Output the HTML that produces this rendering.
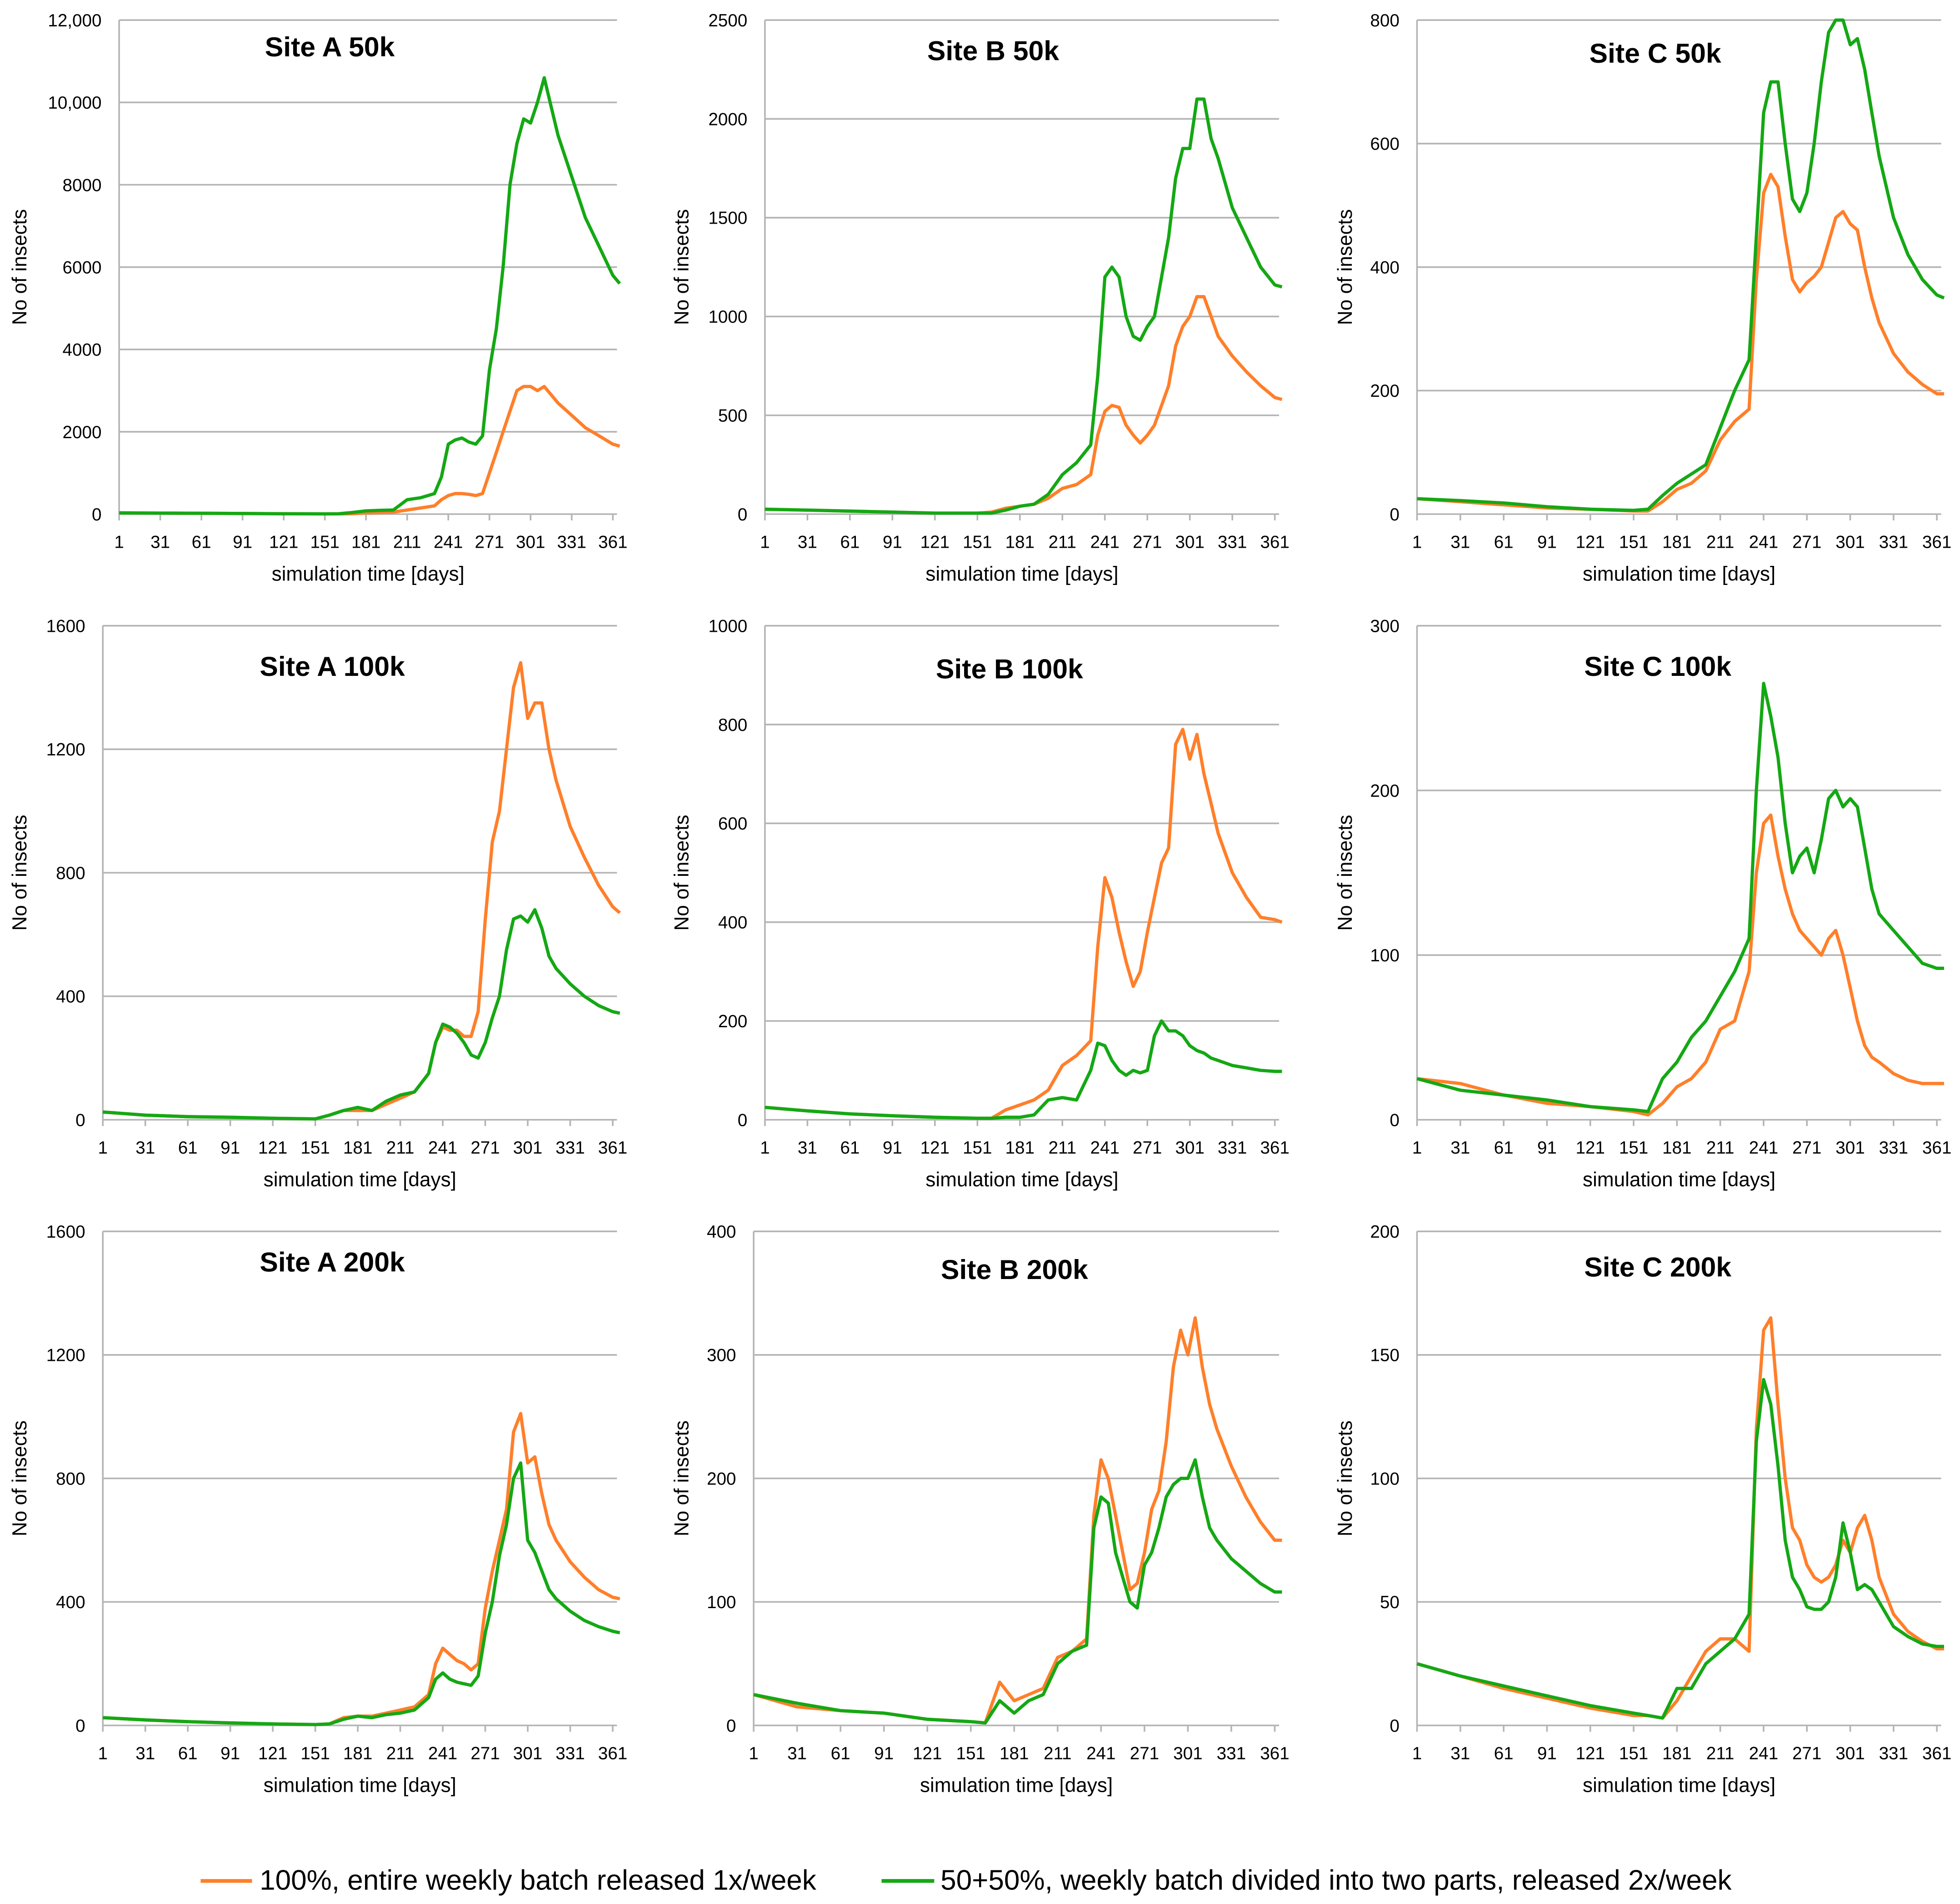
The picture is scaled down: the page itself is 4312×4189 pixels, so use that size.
<!DOCTYPE html>
<html><head><meta charset="utf-8"><style>
html,body{margin:0;padding:0;background:#fff}
svg{display:block}
text{font-family:"Liberation Sans Narrow","Liberation Sans",sans-serif;fill:#000}
</style></head><body>
<svg id="chart" width="4312" height="4189" viewBox="0 0 1563 1518.4" xmlns="http://www.w3.org/2000/svg">
<g>
<line x1="160" y1="1500" x2="201" y2="1500" stroke="#ff7f2a" stroke-width="3"/>
<text x="207" y="1507" font-size="22.5">100%, entire  weekly batch  released 1x/week</text>
<line x1="703" y1="1500" x2="745" y2="1500" stroke="#14a814" stroke-width="3"/>
<text x="750" y="1507" font-size="22.5">50+50%, weekly batch divided into two parts, released 2x/week</text>
</g>
</svg>
<script>
const days=[1,31,61,91,121,151,161,171,181,191,201,211,221,231,236,241,246,251,256,261,266,271,276,281,286,291,296,301,306,311,316,321,331,341,351,361,366];
const xTickLabels=[1,31,61,91,121,151,181,211,241,271,301,331,361];
const titles=["Site A 50k","Site B 50k","Site C 50k","Site A 100k","Site B 100k","Site C 100k","Site A 200k","Site B 200k","Site C 200k"];
const yTicksA50=["0","2000","4000","6000","8000","10,000","12,000"];
const yTicksB50=["0","500","1000","1500","2000","2500"];
const yTicksC50=["0","200","400","600","800"];
const yTicksA100=["0","400","800","1200","1600"];
const yTicksB100=["0","200","400","600","800","1000"];
const yTicksC100=["0","100","200","300"];
const yTicksA200=["0","400","800","1200","1600"];
const yTicksB200=["0","100","200","300","400"];
const yTicksC200=["0","50","100","150","200"];
const orangeA50=[30,25,20,15,10,5,5,10,30,40,50,100,150,200,350,450,500,500,480,450,500,1000,1500,2000,2500,3000,3100,3100,3000,3100,2900,2700,2400,2100,1900,1700,1650];
const greenA50=[30,25,20,15,10,5,10,40,80,90,100,350,400,500,900,1700,1800,1850,1750,1700,1900,3500,4500,6000,8000,9000,9600,9500,10000,10600,9900,9200,8200,7200,6500,5800,5600];
const orangeB50=[25,20,15,10,5,5,10,30,40,50,80,130,150,200,400,520,550,540,450,400,360,400,450,550,650,850,950,1000,1100,1100,1000,900,800,720,650,590,580];
const greenB50=[25,20,15,10,5,5,5,20,40,50,100,200,260,350,700,1200,1250,1200,1000,900,880,950,1000,1200,1400,1700,1850,1850,2100,2100,1900,1800,1550,1400,1250,1160,1150];
const orangeC50=[25,20,15,10,8,5,5,20,40,50,70,120,150,170,380,520,550,530,450,380,360,375,385,400,440,480,490,470,460,400,350,310,260,230,210,195,195];
const greenC50=[25,22,18,12,8,6,8,30,50,65,80,140,200,250,450,650,700,700,600,510,490,520,600,700,780,800,800,760,770,720,650,580,480,420,380,355,350];
const orangeA100=[25,15,10,8,5,3,15,30,30,30,50,70,90,150,250,300,290,290,270,270,350,650,900,1000,1200,1400,1480,1300,1350,1350,1200,1100,950,850,760,690,670];
const greenA100=[25,15,10,8,5,3,15,30,40,30,60,80,90,150,250,310,300,280,250,210,200,250,330,400,550,650,660,640,680,620,530,490,440,400,370,350,345];
const orangeB100=[25,18,12,8,5,3,3,20,30,40,60,110,130,160,350,490,450,380,320,270,300,380,450,520,550,760,790,730,780,700,640,580,500,450,410,405,400];
const greenB100=[25,18,12,8,5,3,3,5,5,10,40,45,40,100,155,150,120,100,90,100,95,100,170,200,180,180,170,150,140,135,125,120,110,105,100,98,98];
const orangeC100=[25,22,15,10,8,5,3,10,20,25,35,55,60,90,150,180,185,160,140,125,115,110,105,100,110,115,100,80,60,45,38,35,28,24,22,22,22];
const greenC100=[25,18,15,12,8,6,5,25,35,50,60,75,90,110,200,265,245,220,180,150,160,165,150,170,195,200,190,195,190,165,140,125,115,105,95,92,92];
const orangeA200=[25,18,12,8,5,3,5,25,30,30,40,50,60,100,200,250,230,210,200,180,200,380,500,600,700,950,1010,850,870,750,650,600,530,480,440,415,410];
const greenA200=[25,18,12,8,5,3,5,20,30,25,35,40,50,90,150,170,150,140,135,130,160,300,400,550,650,800,850,600,560,500,440,410,370,340,320,305,300];
const orangeB200=[25,15,12,10,5,3,2,35,20,25,30,55,60,70,170,215,200,170,140,110,115,140,175,190,230,290,320,300,330,290,260,240,210,185,165,150,150];
const greenB200=[25,18,12,10,5,3,2,20,10,20,25,50,60,65,160,185,180,140,120,100,95,130,140,160,185,195,200,200,215,185,160,150,135,125,115,108,108];
const orangeC200=[25,20,15,11,7,4,4,3,10,20,30,35,35,30,120,160,165,130,100,80,75,65,60,58,60,65,75,70,80,85,75,60,45,38,34,31,31];
const greenC200=[25,20,16,12,8,5,4,3,15,15,25,30,35,45,115,140,130,105,75,60,55,48,47,47,50,60,82,70,55,57,55,50,40,36,33,32,32];

const NS="http://www.w3.org/2000/svg";
const svg=document.getElementById('chart');
const panels=[
 {l:95,r:492,t:16,b:410,yl:15,tx:263,ty:37,ticks:yTicksA50,o:orangeA50,g:greenA50},
 {l:610,r:1020,t:16,b:410,yl:543,tx:792,ty:40,ticks:yTicksB50,o:orangeB50,g:greenB50},
 {l:1130,r:1548,t:16,b:410,yl:1072,tx:1320,ty:42,ticks:yTicksC50,o:orangeC50,g:greenC50},
 {l:82,r:492,t:499,b:893,yl:15,tx:265,ty:531,ticks:yTicksA100,o:orangeA100,g:greenA100},
 {l:610,r:1020,t:499,b:893,yl:543,tx:805,ty:533,ticks:yTicksB100,o:orangeB100,g:greenB100},
 {l:1130,r:1548,t:499,b:893,yl:1072,tx:1322,ty:531,ticks:yTicksC100,o:orangeC100,g:greenC100},
 {l:82,r:492,t:982,b:1376,yl:15,tx:265,ty:1006,ticks:yTicksA200,o:orangeA200,g:greenA200},
 {l:601,r:1020,t:982,b:1376,yl:543,tx:809,ty:1012,ticks:yTicksB200,o:orangeB200,g:greenB200},
 {l:1130,r:1548,t:982,b:1376,yl:1072,tx:1322,ty:1010,ticks:yTicksC200,o:orangeC200,g:greenC200}
];
function mk(tag,attrs,parent){const e=document.createElementNS(NS,tag);for(const k in attrs)e.setAttribute(k,attrs[k]);parent.appendChild(e);return e;}
panels.forEach((p,i)=>{
 const g=mk('g',{},svg);
 
 
 const ymax=parseFloat(p.ticks[p.ticks.length-1].replace(',',''));
 const xs=d=>p.l+(d-1)*(p.r-p.l)/363;
 const ys=v=>p.b-v/ymax*(p.b-p.t);
 p.ticks.forEach(t=>{
  const v=parseFloat(t.replace(',','')),y=ys(v);
  const gl=mk('line',{x1:p.l,x2:p.r,y1:y,y2:y,stroke:'#b4b4b4','stroke-width':1.3},g);
  
  
  const tl=mk('text',{x:p.l-14,y:y+5,'font-size':14,'text-anchor':'end'},g);
  
  
  tl.textContent=t;
 });
 const ax=mk('line',{x1:p.l,x2:p.l,y1:p.t,y2:p.b,stroke:'#b4b4b4','stroke-width':1.3},g);
 
 
 xTickLabels.forEach(d=>{
  const x=xs(d);
  const tk=mk('line',{x1:x,x2:x,y1:p.b,y2:p.b+5,stroke:'#b4b4b4','stroke-width':1.3},g);
  
  
  const tl=mk('text',{x:x,y:p.b+27,'font-size':14,'text-anchor':'middle'},g);
  
  
  tl.textContent=d;
 });
 const xt=mk('text',{x:(p.l+p.r)/2,y:p.b+53,'font-size':16,'text-anchor':'middle'},g);
 
 
 xt.textContent='simulation time [days]';
 const yc=(p.t+p.b)/2;
 const yt=mk('text',{x:p.yl+6,y:yc,'font-size':16,'text-anchor':'middle',transform:'rotate(-90 '+(p.yl+6)+' '+yc+')'},g);
 
 
 yt.textContent='No of insects';
 const tt=mk('text',{x:p.tx,y:p.ty+8,'font-size':22,'font-weight':'bold','text-anchor':'middle'},g);
 
 
 tt.textContent=titles[i];
 [[p.o,'#ff7f2a','orange'],[p.g,'#14a814','green']].forEach(([vals,col,nm])=>{
  const pts=days.map((d,j)=>xs(d).toFixed(1)+','+ys(vals[j]).toFixed(1)).join(' ');
  const pl=mk('polyline',{points:pts,fill:'none',stroke:col,'stroke-width':2.6,'stroke-linejoin':'round'},g);
  
  
 });
});
</script>
</body></html>
